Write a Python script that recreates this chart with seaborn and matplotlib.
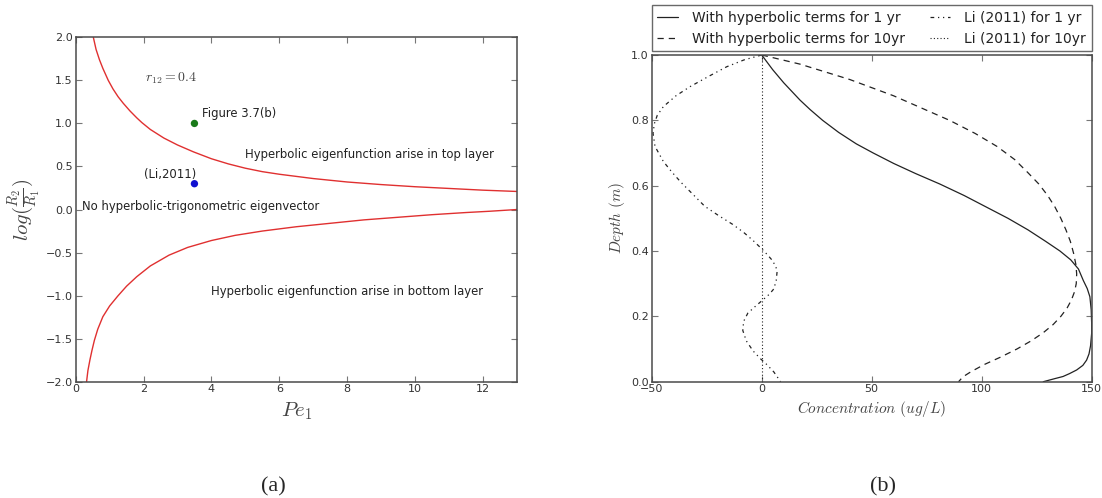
import numpy as np
import pandas as pd
import matplotlib
matplotlib.use("Agg")
import matplotlib.pyplot as plt
import seaborn as sns

# ---------------- data ----------------
# (a) boundary curves
upper_pe = [0.52, 0.60, 0.70, 0.80, 0.96, 1.10, 1.25, 1.40, 1.60, 1.80, 1.95, 2.20, 2.60, 3.00,
            3.47, 4.00, 4.50, 5.00, 5.50, 6.00, 7.00, 8.00, 9.00, 10.0, 11.0, 12.0, 13.0]
upper_lg = [2.00, 1.86, 1.74, 1.64, 1.50, 1.40, 1.31, 1.235, 1.145, 1.065, 1.01, 0.93, 0.83, 0.75,
            0.67, 0.59, 0.53, 0.48, 0.44, 0.41, 0.36, 0.32, 0.29, 0.265, 0.245, 0.225, 0.21]
lower_pe = [0.32, 0.36, 0.42, 0.48, 0.55, 0.65, 0.80, 1.00, 1.24, 1.50, 1.80, 2.20, 2.75, 3.30,
            4.00, 4.70, 5.50, 6.50, 7.50, 8.50, 9.50, 10.5, 11.5, 12.2, 13.0]
lower_lg = [-2.00, -1.87, -1.745, -1.635, -1.52, -1.39, -1.245, -1.12, -1.005, -0.89, -0.78, -0.655,
            -0.53, -0.44, -0.36, -0.30, -0.25, -0.20, -0.16, -0.12, -0.09, -0.06, -0.035, -0.02, 0.00]
point_pe = [3.5, 3.5]
point_lg = [1.0, 0.3]
point_names = ["Figure 3.7(b)", "(Li,2011)"]

# (b) concentration profiles
hyp1_conc = [0, 5, 10, 17.4, 22, 27.7, 35, 43, 50.7, 60, 70, 81, 92, 102, 112, 121, 129,
             135.6, 140.5, 144, 146.2, 148, 149.2, 149.8, 150, 150, 149.5, 148.8, 147.7, 146,
             143.2, 140, 137, 133, 128]
hyp1_depth = [1.0, 0.955, 0.915, 0.862, 0.833, 0.80, 0.763, 0.728, 0.70, 0.668, 0.637, 0.605,
              0.57, 0.535, 0.50, 0.465, 0.43, 0.40, 0.373, 0.345, 0.31, 0.285, 0.26, 0.22,
              0.18, 0.148, 0.11, 0.085, 0.066, 0.05, 0.036, 0.025, 0.016, 0.009, 0.0]
hyp10_conc = [0, 17.4, 40, 60, 85.4, 97, 107, 115, 121, 126, 130, 133.3, 136, 138.3, 140.3,
              141.8, 142.8, 143.2, 143, 142.2, 140.8, 138.8, 136, 132.5, 128, 122.5, 116,
              108.5, 101, 95, 91.5, 89.5]
hyp10_depth = [1.0, 0.972, 0.925, 0.875, 0.80, 0.76, 0.72, 0.68, 0.64, 0.605, 0.57, 0.535,
               0.50, 0.465, 0.43, 0.393, 0.36, 0.33, 0.30, 0.275, 0.25, 0.225, 0.20, 0.175,
               0.15, 0.125, 0.10, 0.075, 0.052, 0.03, 0.015, 0.0]
li1_conc = [0, -8, -15.9, -24, -32.6, -39, -44.7, -47.5, -48.8, -49.4, -48.5, -44.7, -41,
            -36.8, -31.5, -25.9, -19.5, -13.3, -8.2, -3.9, -0.5, 2.4, 5, 6.5, 7, 6.6, 5.5, 3.5,
            0.8, -3, -6.3, -8.2, -8.6, -7, -3.9, -0.5, 2.4, 5.5, 8.6]
li1_depth = [1.0, 0.985, 0.964, 0.935, 0.903, 0.875, 0.842, 0.815, 0.79, 0.76, 0.72, 0.674,
             0.643, 0.611, 0.575, 0.537, 0.508, 0.482, 0.457, 0.432, 0.41, 0.39, 0.37, 0.35,
             0.337, 0.31, 0.284, 0.268, 0.252, 0.23, 0.21, 0.185, 0.157, 0.125, 0.094, 0.07,
             0.052, 0.03, 0.0]
li10_conc = [0, 0]
li10_depth = [0.0, 1.0]

legend_labels = ["With hyperbolic terms for 1 yr", "With hyperbolic terms for 10yr",
                 "Li (2011) for 1 yr", "Li (2011) for 10yr"]

# ---------------- style ----------------
sns.set_style("ticks")
plt.rcParams["font.family"] = ["DejaVu Sans"]
plt.rcParams["mathtext.fontset"] = "cm"
plt.rcParams["xtick.direction"] = "in"
plt.rcParams["ytick.direction"] = "in"
plt.rcParams["xtick.top"] = True
plt.rcParams["ytick.right"] = True

fig = plt.figure(figsize=(11.02, 4.98), dpi=100)
axa = fig.add_axes([0.0687, 0.2335, 0.4002, 0.6915])
axb = fig.add_axes([0.5914, 0.2335, 0.3992, 0.6561])

spine_c = "#4a4a4a"
tick_c = "#333333"
for ax in (axa, axb):
    for s in ax.spines.values():
        s.set_color(spine_c)
        s.set_linewidth(1.1)
    ax.tick_params(axis="both", which="both", length=4, width=0.8, color="#777777",
                   labelsize=8, labelcolor=tick_c, pad=2)

# ---------------- (a) ----------------
sns.lineplot(x=upper_pe, y=upper_lg, ax=axa, color="#e03030", lw=1.0, sort=False, estimator=None)
sns.lineplot(x=lower_pe, y=lower_lg, ax=axa, color="#e03030", lw=1.0, sort=False, estimator=None)
sns.scatterplot(x=point_pe[:1], y=point_lg[:1], ax=axa, color="#1a7a1a", s=28, edgecolor="none", zorder=3)
sns.scatterplot(x=point_pe[1:], y=point_lg[1:], ax=axa, color="#1010d0", s=28, edgecolor="none", zorder=3)
axa.set_xlim(0, 13)
axa.set_ylim(-2, 2)
axa.set_xticks([0, 2, 4, 6, 8, 10, 12])
yt = np.arange(-2.0, 2.01, 0.5)
axa.set_yticks(yt)
axa.set_yticklabels([f"{v:.1f}".replace("-", "\u2212") for v in yt])
axa.set_xlabel(r"$Pe_1$", fontsize=15, color="#444444", labelpad=4)
axa.set_ylabel(r"$log(\frac{R_2}{R_1})$", fontsize=15, color="#444444", labelpad=2)

tc = "#222222"
fs = 8.4
axa.text(2.03, 1.52, r"$r_{12}=0.4$", fontsize=10, color="#444444", va="center")
axa.text(3.72, 1.12, point_names[0], fontsize=fs, color=tc, va="center")
axa.text(2.0, 0.41, point_names[1], fontsize=fs, color=tc, va="center")
axa.text(0.19, 0.04, "No hyperbolic-trigonometric eigenvector", fontsize=fs, color=tc, va="center")
axa.text(4.99, 0.64, "Hyperbolic eigenfunction arise in top layer", fontsize=fs, color=tc, va="center")
axa.text(4.0, -0.95, "Hyperbolic eigenfunction arise in bottom layer", fontsize=fs, color=tc, va="center")

# ---------------- (b) ----------------
lc = "#222222"
sns.lineplot(x=hyp1_conc, y=hyp1_depth, ax=axb, color=lc, lw=0.9, sort=False, estimator=None,
             linestyle="-", label=legend_labels[0])
sns.lineplot(x=hyp10_conc, y=hyp10_depth, ax=axb, color=lc, lw=0.9, sort=False, estimator=None,
             linestyle=(0, (5, 4)), label=legend_labels[1])
sns.lineplot(x=li1_conc, y=li1_depth, ax=axb, color=lc, lw=0.9, sort=False, estimator=None,
             linestyle=(0, (3, 3, 1, 3, 1, 3)), label=legend_labels[2])
sns.lineplot(x=li10_conc, y=li10_depth, ax=axb, color=lc, lw=0.8, sort=False, estimator=None,
             linestyle=(0, (1, 2)), label=legend_labels[3])
axb.set_xlim(-50, 150)
axb.set_ylim(0, 1)
axb.set_xticks([-50, 0, 50, 100, 150])
axb.set_xticklabels(["\u221250", "0", "50", "100", "150"])
ytb = np.arange(0, 1.01, 0.2)
axb.set_yticks(ytb)
axb.set_yticklabels([f"{v:.1f}" for v in ytb])
axb.set_xlabel(r"$Concentration\ (ug/L)$", fontsize=11, color="#444444", labelpad=3)
axb.set_ylabel(r"$Depth\ (m)$", fontsize=11, color="#444444", labelpad=3)

leg = axb.legend(loc="lower left", bbox_to_anchor=(0.0, 1.012, 1.0, 0.14), mode="expand",
                 ncol=2, fontsize=10, frameon=True, fancybox=False, borderaxespad=0.0,
                 handlelength=1.5, handletextpad=1.0, columnspacing=1.0, labelspacing=0.5,
                 borderpad=0.4)
leg.get_frame().set_edgecolor("#444444")
leg.get_frame().set_linewidth(1.0)
for t in leg.get_texts():
    t.set_color("#222222")

# ---------------- captions ----------------
fig.text(273 / 1102, 1 - 487 / 498, "(a)", fontsize=16, family="Liberation Serif", ha="center", va="center")
fig.text(883 / 1102, 1 - 487 / 498, "(b)", fontsize=16, family="Liberation Serif", ha="center", va="center")

fig.savefig("out.png", dpi=100, facecolor="white")
